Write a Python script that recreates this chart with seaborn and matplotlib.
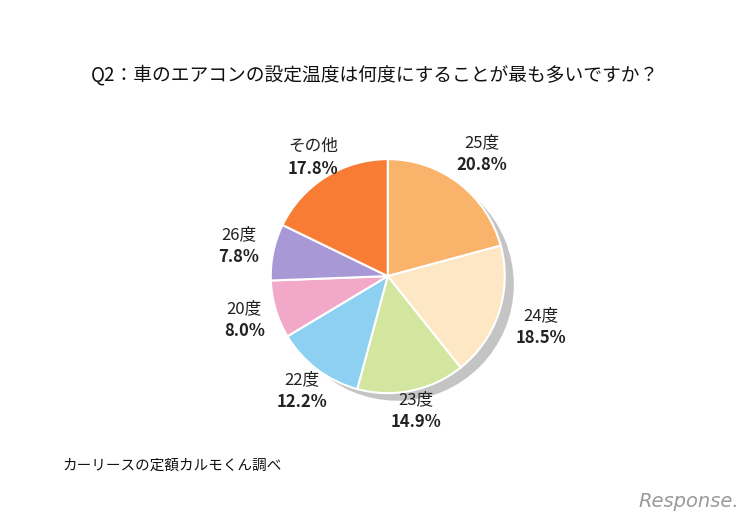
import matplotlib
matplotlib.use("Agg")
import matplotlib.pyplot as plt
import seaborn as sns
import numpy as np

categories = ["25度", "24度", "23度", "22度", "20度", "26度", "その他"]
values = [20.8, 18.5, 14.9, 12.2, 8.0, 7.8, 17.8]
colors = ["#f9b36a", "#fde7c4", "#d3e6a0", "#8ed0f2", "#f2a9c9", "#a899d6", "#f87c34"]

sns.set_theme(style="white")
plt.rcParams["font.family"] = "Noto Sans CJK JP"

fig = plt.figure(figsize=(7.5, 5.2), dpi=100)
fig.patch.set_facecolor("white")

W, H = 0.312, 0.45
cx, cy = 0.517, 0.469
# shadow
axs = fig.add_axes([cx - W / 2 + 0.013, cy - H / 2 - 0.016, W, H])
axs.pie([1], colors=["#c4c4c4"], startangle=90)
axs.set_xlim(-1, 1); axs.set_ylim(-1, 1)
axs.set_aspect("equal"); axs.axis("off")

ax = fig.add_axes([cx - W / 2, cy - H / 2, W, H])
wedges, _ = ax.pie(values, colors=colors, startangle=90, counterclock=False,
                   wedgeprops=dict(edgecolor="white", linewidth=1.5))
ax.set_xlim(-1, 1); ax.set_ylim(-1, 1)
ax.set_aspect("equal"); ax.axis("off")

radii = [1.32, 1.38, 1.17, 1.22, 1.28, 1.3, 1.2]
for i, w in enumerate(wedges):
    ang = np.deg2rad((w.theta1 + w.theta2) / 2)
    r = radii[i]
    x, y = r * np.cos(ang), r * np.sin(ang)
    ax.text(x, y + 0.09, categories[i], ha="center", va="center", fontsize=12,
            color="#222", clip_on=False)
    ax.text(x, y - 0.1, f"{values[i]:.1f}%", ha="center", va="center", fontsize=12,
            fontweight="bold", color="#222", clip_on=False)

fig.text(0.5, 0.855, "Q2：車のエアコンの設定温度は何度にすることが最も多いですか？",
         ha="center", va="center", fontsize=13.5, color="#111")
fig.text(0.083, 0.105, "カーリースの定額カルモくん調べ", ha="left", va="center",
         fontsize=10.5, color="#111")
fig.text(0.985, 0.035, "Response.", ha="right", va="center", fontsize=14,
         style="italic", color="#9a9a9a", fontfamily="DejaVu Sans")

fig.savefig("out.png", dpi=100)
